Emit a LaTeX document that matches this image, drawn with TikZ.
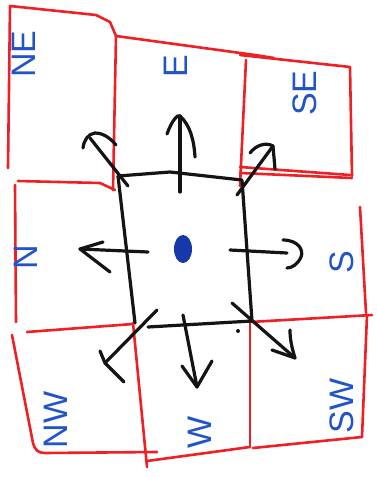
\documentclass[tikz,border=0pt]{standalone}
\usepackage{fontspec}
\usetikzlibrary{shapes.geometric}
\setmainfont{Liberation Sans}
\definecolor{penred}{RGB}{238,32,36}
\definecolor{penblue}{RGB}{32,84,200}
\definecolor{dotblue}{RGB}{22,56,168}
\definecolor{penblack}{RGB}{20,20,20}
\begin{document}
\begin{tikzpicture}[x=1pt,y=-1pt,
  redline/.style={draw=penred,line width=2.6pt,line cap=round,line join=round},
  blackline/.style={draw=penblack,line width=3.2pt,line cap=round,line join=round},
  lbl/.style={text=penblue,font=\fontsize{34}{34}\selectfont,inner sep=0pt,rotate=90}]
\useasboundingbox[fill=white] (0,0) rectangle (376,477);

% ---------------- red grid (hand-drawn) ----------------
% NE box
\draw[redline] (8,168) -- (10,6) -- (96,15) -- (110,22) -- (116,36);
% E box
\draw[redline] (116,36) -- (255,55) -- (274,58);
\draw[redline] (116,36) -- (113,190);
\draw[redline] (246,60) -- (240,186);
% SE box
\draw[redline] (240,55) -- (350,67) -- (352,176);
\draw[redline] (240,167) -- (350,175);
\draw[redline] (240,173) -- (352,178);
% N box
\draw[redline] (18,181) -- (100,183) -- (115,190);
\draw[redline] (15,185) -- (16,322);
% S box
\draw[redline] (360,207) -- (366,313);
\draw[redline] (250,322) -- (372,315);
% NW box
\draw[redline] (27,332) -- (133,324);
\draw[redline] (12,335) -- (33,443) .. controls (35,450) and (38,453) .. (45,453) -- (157,452);
\draw[redline] (133,323) -- (147,467);
% W box
\draw[redline] (147,461) -- (250,447);
\draw[redline] (250,320) -- (250,446);
% SW box
\draw[redline] (253,448) -- (362,437);
\draw[redline] (367,315) -- (362,437);

% ---------------- black centre square ----------------
\coordinate (tl) at (118,176);
\coordinate (tm) at (170,172);
\coordinate (tr) at (242,180);
\coordinate (br) at (252,321);
\coordinate (bl) at (135,323);
\coordinate (bm) at (148,327);
\draw[blackline] (tl) -- (tm) -- (tr) -- (br);
\draw[blackline] (tl) -- (bl);
\draw[blackline] (bm) -- (br);

% ---------------- blue dot ----------------
\node[draw=none,fill=dotblue,ellipse,minimum width=18pt,minimum height=28pt,inner sep=0pt] (dot) at (183,249) {};
\node[fill=penblack,circle,inner sep=0pt,minimum size=4pt] (speck) at (238,331) {};

% ---------------- arrows ----------------
% up
\coordinate (u0) at (180,192); \coordinate (u1) at (180,116);
\coordinate (ua) at (167,134); \coordinate (ub) at (195,157);
\draw[blackline] (u0) -- (u1);
\draw[blackline] (ua) .. controls (172,120) and (178,114) .. (u1) .. controls (190,125) and (194,140) .. (ub);
% up-left
\coordinate (ul0) at (128,186); \coordinate (ul1) at (90,138);
\coordinate (ula) at (83,148); \coordinate (ulb) at (116,145);
\draw[blackline] (ul0) -- (ul1);
\draw[blackline] (ula) .. controls (84,140) and (88,134) .. (95,133) .. controls (104,133) and (111,139) .. (ulb);
% up-right
\coordinate (ur0) at (237,195); \coordinate (ur1) at (273,146);
\coordinate (ura) at (250,153); \coordinate (urb) at (275,169);
\draw[blackline] (ur0) -- (ur1);
\draw[blackline] (ura) .. controls (256,145) and (266,142) .. (ur1) -- (urb);
% left
\coordinate (l0) at (148,252); \coordinate (l1) at (80,249);
\coordinate (la) at (103,242); \coordinate (lb) at (110,272);
\draw[blackline] (l0) -- (l1);
\draw[blackline] (la) -- (l1) -- (lb);
% right
\coordinate (r0) at (230,250); \coordinate (r1) at (287,253);
\coordinate (ra) at (283,240); \coordinate (rb) at (287,268);
\draw[blackline] (r0) -- (r1);
\draw[blackline] (ra) .. controls (298,240) and (304,250) .. (301,257) .. controls (298,264) and (292,268) .. (rb);
% down-left
\coordinate (dl0) at (157,310); \coordinate (dl1) at (105,363);
\coordinate (dla) at (100,351); \coordinate (dlb) at (124,382);
\draw[blackline] (dl0) -- (dl1);
\draw[blackline] (dla) -- (dl1) -- (dlb);
% down
\coordinate (d0) at (183,315); \coordinate (d1) at (197,387);
\coordinate (da) at (182,366); \coordinate (db) at (212,361);
\draw[blackline] (d0) -- (d1);
\draw[blackline] (da) -- (d1) -- (db);
% down-right
\coordinate (dr0) at (232,303); \coordinate (dr1) at (295,358);
\coordinate (dra) at (272,350); \coordinate (drb) at (290,330);
\draw[blackline] (dr0) -- (dr1);
\draw[blackline] (dra) -- (dr1) .. controls (292,348) and (290,340) .. (drb);

% ---------------- labels ----------------
\node[lbl] (lNE) at (24,54) {NE};
\node[lbl] (lE) at (176,66) {E};
\node[lbl] (lSE) at (305,93) {SE};
\node[lbl] (lN) at (26,257) {N};
\node[lbl] (lS) at (342,262) {S};
\node[lbl] (lNW) at (56,420) {NW};
\node[lbl] (lW) at (200,432) {W};
\node[lbl] (lSW) at (342,406) {SW};
\end{tikzpicture}
\end{document}
